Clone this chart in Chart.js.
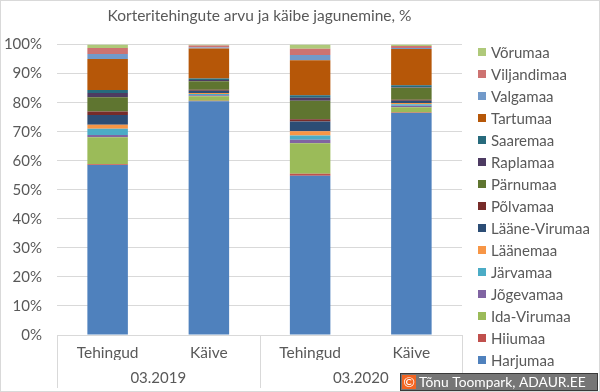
<!DOCTYPE html>
<html lang="et">
<head>
<meta charset="utf-8">
<title>Korteritehingute arvu ja käibe jagunemine</title>
<script src="https://cdn.jsdelivr.net/npm/chart.js@4.4.1/dist/chart.umd.min.js"></script>
<style>
  body { margin: 0; background: #fff; }
  #wrap { width: 600px; height: 392px; position: relative; }
</style>
</head>
<body>
<div id="wrap"><canvas id="chart"></canvas></div>
<script>
const categories = ['Tehingud', 'Käive', 'Tehingud', 'Käive'];
const periods = ['03.2019', '03.2020'];

// osakaal %, järjekord: Tehingud 2019, Käive 2019, Tehingud 2020, Käive 2020
const harjumaa     = [58.5, 80.45, 54.85, 76.45];
const hiiumaa      = [0.3, 0.2, 0.7, 0.2];
const idaVirumaa   = [9.3, 1.6, 10.5, 1.8];
const jogevamaa    = [0.8, 0.35, 1.15, 0.45];
const jarvamaa     = [2.1, 0.35, 1.5, 0.6];
const laanemaa     = [1.4, 0.35, 1.5, 0.35];
const laaneVirumaa = [3.4, 0.8, 3.3, 0.8];
const polvamaa     = [1.15, 0.35, 0.8, 0.35];
const parnumaa     = [4.9, 2.9, 6.4, 4.1];
const raplamaa     = [1.5, 0.5, 1.0, 0.2];
const saaremaa     = [1.0, 0.5, 0.9, 0.7];
const tartumaa     = [10.7, 10.3, 12.0, 12.5];
const valgamaa     = [1.7, 0.35, 1.8, 0.35];
const viljandimaa  = [2.1, 0.7, 2.2, 0.7];
const vorumaa      = [1.15, 0.3, 1.4, 0.45];

const regions = ['Harjumaa', 'Hiiumaa', 'Ida-Virumaa', 'Jõgevamaa', 'Järvamaa', 'Läänemaa', 'Lääne-Virumaa',
  'Põlvamaa', 'Pärnumaa', 'Raplamaa', 'Saaremaa', 'Tartumaa', 'Valgamaa', 'Viljandimaa', 'Võrumaa'];
const shares = [harjumaa, hiiumaa, idaVirumaa, jogevamaa, jarvamaa, laanemaa, laaneVirumaa,
  polvamaa, parnumaa, raplamaa, saaremaa, tartumaa, valgamaa, viljandimaa, vorumaa];
const colors = ['#4F81BD', '#C0504D', '#9BBB59', '#8064A2', '#4BACC6', '#F79646', '#2C4D75',
  '#772C2A', '#5F7530', '#4D3B62', '#276A7C', '#B65708', '#729ACA', '#CD7371', '#AFC97A'];

const FONT = 'Lato, "Open Sans", sans-serif';
const TEXT = '#595959';
const LINE = '#d9d9d9';

const frame = {
  id: 'frame',
  beforeDraw(chart) {
    const ctx = chart.ctx;
    ctx.save();
    ctx.fillStyle = '#fff';
    ctx.fillRect(0, 0, chart.width, chart.height);
    ctx.restore();
  },
  afterDraw(chart) {
    const ctx = chart.ctx;
    const xs = chart.scales.x;
    const area = chart.chartArea;
    ctx.save();
    // group divider lines under the category axis
    ctx.strokeStyle = LINE;
    ctx.lineWidth = 1;
    const mid = (xs.getPixelForValue(1) + xs.getPixelForValue(2)) / 2;
    [xs.left, mid, xs.right].forEach(px => {
      const x = Math.round(px) + 0.5;
      ctx.beginPath();
      ctx.moveTo(x, area.bottom);
      ctx.lineTo(x, chart.height - 4);
      ctx.stroke();
    });
    // legend, reversed like in Excel
    ctx.font = '15px ' + FONT;
    ctx.textBaseline = 'middle';
    ctx.textAlign = 'left';
    const items = chart.data.datasets.slice().reverse();
    items.forEach((ds, i) => {
      const y = 52 + i * 22;
      ctx.fillStyle = ds.backgroundColor;
      ctx.fillRect(478, y - 4, 8, 8);
      ctx.fillStyle = TEXT;
      ctx.fillText(ds.label, 491, y + 1);
    });
    // outer border
    ctx.strokeStyle = LINE;
    ctx.strokeRect(0.5, 0.5, chart.width - 1, chart.height - 1);
    // copyright badge
    ctx.fillStyle = '#767676';
    ctx.fillRect(400, 373, 198, 18);
    ctx.strokeStyle = '#3a3a3a';
    ctx.strokeRect(400.5, 373.5, 197, 17);
    ctx.fillStyle = '#F26522';
    ctx.fillRect(402, 375, 14, 14);
    ctx.fillStyle = '#fff';
    ctx.font = '14px ' + FONT;
    ctx.textAlign = 'center';
    ctx.fillText('©', 409, 382.5);
    ctx.textAlign = 'left';
    ctx.font = '13.8px ' + FONT;
    ctx.fillText('Tõnu Toompark, ADAUR.EE', 419, 382.5);
    ctx.restore();
  }
};

new Chart(document.getElementById('chart'), {
  type: 'bar',
  data: {
    labels: categories,
    datasets: regions.map((name, i) => ({
      label: name,
      data: shares[i],
      backgroundColor: colors[i],
      borderWidth: 0,
      barPercentage: 0.4,
      categoryPercentage: 1
    }))
  },
  options: {
    responsive: true,
    maintainAspectRatio: false,
    animation: false,
    layout: { padding: { right: 138, left: 0, top: 0, bottom: 0 } },
    plugins: {
      legend: { display: false },
      tooltip: { enabled: false },
      title: {
        display: true,
        fullSize: false,
        text: 'Korteritehingute arvu ja käibe jagunemine, %',
        color: TEXT,
        font: { family: FONT, size: 15.5, weight: 'normal' },
        padding: { top: 7, bottom: 19 }
      }
    },
    scales: {
      x: {
        stacked: true,
        weight: 1,
        grid: { display: false, drawTicks: false },
        border: { color: LINE },
        ticks: { color: TEXT, font: { family: FONT, size: 15.5 }, padding: 9, maxRotation: 0 },
        afterFit: s => { s.height = 25; }
      },
      x2: {
        type: 'category',
        labels: periods,
        position: 'bottom',
        offset: true,
        weight: 2,
        grid: { display: false, drawTicks: false },
        border: { display: false },
        ticks: { color: TEXT, font: { family: FONT, size: 15 }, padding: 9, maxRotation: 0 },
        afterFit: s => { s.height = 32; }
      },
      y: {
        stacked: true,
        min: 0,
        max: 100,
        grid: { color: LINE, drawTicks: false },
        border: { display: false },
        ticks: {
          stepSize: 10,
          color: TEXT,
          padding: 15,
          font: { family: FONT, size: 15 },
          callback: v => v + '%'
        },
        afterFit: s => { s.width = 57; }
      }
    }
  },
  plugins: [frame]
});
</script>
</body>
</html>
